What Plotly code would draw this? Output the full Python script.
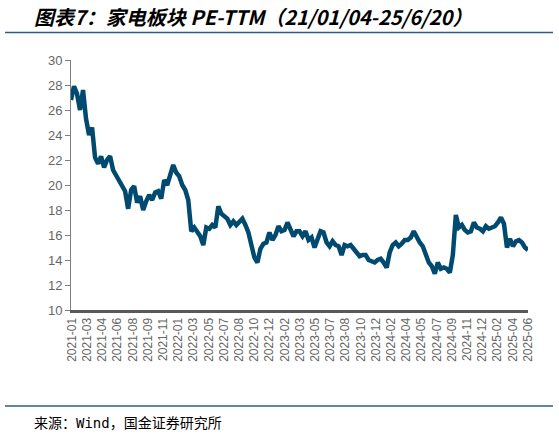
import numpy as np
import plotly.graph_objects as go

# 家电板块 PE-TTM (roughly one value per ~7 trading days)
pe_ttm = [
    26.8, 27.9, 27.3, 26.0, 27.6, 25.3, 24.0, 24.6, 22.2, 21.7,
    22.3, 21.4, 22.0, 22.3, 21.2, 20.8, 20.4, 20.0, 19.5, 18.1,
    19.6, 19.9, 18.6, 19.1, 18.0, 18.7, 19.2, 18.8, 19.4, 19.5,
    18.9, 20.4, 20.0, 20.8, 21.6, 21.0, 20.7, 20.0, 19.6, 18.8,
    16.3, 16.6, 16.2, 15.9, 15.2, 16.6, 16.5, 16.8, 16.6, 18.3,
    17.7, 17.5, 17.3, 16.8, 17.1, 16.8, 17.0, 17.3, 16.8, 16.2,
    15.2, 14.2, 13.8, 14.9, 15.3, 15.4, 16.2, 15.6, 16.0, 16.7,
    16.3, 16.4, 17.0, 16.4, 15.9, 16.3, 16.3, 15.9, 16.3, 15.6,
    15.8, 15.0, 15.7, 16.3, 16.2, 15.4, 15.1, 15.5, 15.2, 15.1,
    14.4, 15.2, 15.1, 15.2, 14.9, 14.6, 14.3, 14.4, 14.4, 14.0,
    13.9, 13.8, 14.0, 14.1, 13.8, 13.4, 14.6, 15.2, 15.4, 15.1,
    15.3, 15.6, 15.6, 15.8, 16.3, 15.8, 15.4, 15.1, 14.5, 13.8,
    13.5, 12.9, 13.8, 13.3, 13.4, 13.3, 13.0, 14.4, 17.6, 16.6,
    16.8, 16.4, 16.2, 16.3, 17.0, 16.6, 16.5, 16.3, 16.7, 16.5,
    16.6, 16.7, 17.0, 17.4, 16.9, 15.0, 15.7, 15.1, 15.5, 15.6,
    15.4, 15.0, 14.8,
]

month_labels = [
    "2021-01", "2021-03", "2021-04", "2021-06", "2021-08", "2021-09", "2021-11",
    "2022-01", "2022-03", "2022-05", "2022-07", "2022-08", "2022-10", "2022-12",
    "2023-02", "2023-03", "2023-05", "2023-07", "2023-08", "2023-10", "2023-12",
    "2024-02", "2024-04", "2024-05", "2024-07", "2024-09", "2024-11", "2024-12",
    "2025-02", "2025-04", "2025-06",
]

y_ticks = [10, 12, 14, 16, 18, 20, 22, 24, 26, 28, 30]

n = len(pe_ttm)
x_idx = list(range(n))
tick_pos = np.linspace(0.3, n - 1, len(month_labels))

W, H = 559, 435
L, R, T, B = 71, 31, 60, 125
pw, ph = W - L - R, H - T - B


def px(x):
    return (x - L) / pw


def py(y):
    return (H - B - y) / ph


fig = go.Figure()
fig.add_trace(go.Scatter(
    x=x_idx, y=pe_ttm, mode="lines",
    line=dict(color="#004a70", width=4.5),
    showlegend=False, hoverinfo="y",
))

rule = "#2b5d87"
fig.add_shape(type="line", xref="paper", yref="paper",
              x0=px(5), x1=px(553), y0=py(32.5), y1=py(32.5),
              line=dict(color=rule, width=1.5))
fig.add_shape(type="line", xref="paper", yref="paper",
              x0=px(5), x1=px(553), y0=py(406), y1=py(406),
              line=dict(color=rule, width=1.5))

fig.add_annotation(
    text="<b><i>图表7：家电板块 PE-TTM（21/01/04-25/6/20）</i></b>",
    xref="paper", yref="paper", x=px(32), y=py(16),
    xanchor="left", yanchor="middle", showarrow=False,
    font=dict(family="Noto Sans CJK SC", size=20, color="#000000"),
)
fig.add_annotation(
    text="来源：Wind，国金证券研究所",
    xref="paper", yref="paper", x=px(32), y=py(423),
    xanchor="left", yanchor="middle", showarrow=False,
    font=dict(family="DejaVu Sans Mono, Noto Sans CJK SC", size=14, color="#000000"),
)

fig.update_xaxes(
    range=[0, n - 1],
    tickmode="array", tickvals=tick_pos, ticktext=month_labels,
    tickangle=-90, ticks="",
    tickfont=dict(family="Liberation Sans", size=12, color="#666666"),
    showline=True, linecolor="#595959", linewidth=3,
    showgrid=False, zeroline=False,
)
fig.update_yaxes(
    range=[10, 30],
    tickmode="array", tickvals=y_ticks,
    ticks="outside", ticklen=5, tickcolor="#7f7f7f", tickwidth=1,
    tickfont=dict(family="Liberation Sans", size=13, color="#666666"),
    showline=True, linecolor="#7f7f7f", linewidth=1,
    showgrid=False, zeroline=False,
)

fig.update_layout(
    width=W, height=H,
    margin=dict(l=L, r=R, t=T, b=B),
    paper_bgcolor="white", plot_bgcolor="white",
)

# page body has a default 8px margin; drop it so the figure sits at 0,0
fig.write_html("out.html", config={"displayModeBar": False},
               post_script="document.body.style.margin='0';")
